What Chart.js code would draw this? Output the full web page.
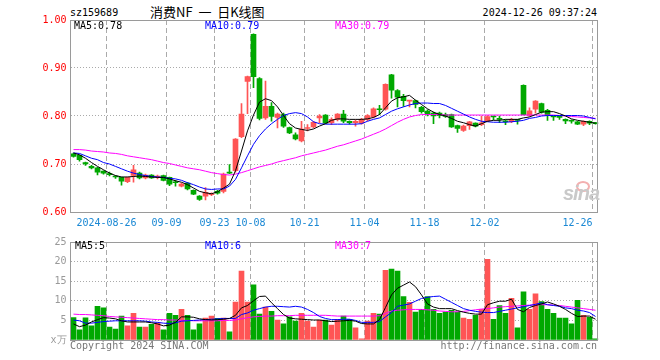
<!DOCTYPE html>
<html>
<head>
<meta charset="utf-8">
<script src="https://cdn.jsdelivr.net/npm/chart.js@4.4.1/dist/chart.umd.min.js"></script>
<style>
  body { margin: 0; background: #fff; }
  #wrap { position: relative; width: 660px; height: 360px; overflow: hidden; background: #fff; }
  canvas { position: absolute; left: 0; }
  .t { position: absolute; font: 10px/10px "DejaVu Sans Mono", monospace; white-space: pre; color: #000; }
  .cjk { font: 13px/13px "Noto Sans CJK SC", sans-serif; }
  .logo { position: absolute; left: 563px; top: 183px; font: italic bold 20px/20px "Liberation Sans", sans-serif; color: #c9c9c9; letter-spacing: -1px; }
  .eye { position: absolute; left: 576px; top: 181px; width: 10px; height: 7px; border-radius: 50%; border: 2px solid #f3b0b0; }
</style>
</head>
<body>
<div id="wrap">
  <div class="t" style="left:70px;top:8px">sz159689</div>
  <div class="t cjk" style="left:150px;top:5px">消费NF  一  日K线图</div>
  <div class="t" style="right:63px;top:8px">2024-12-26 09:37:24</div>
  <canvas id="price" width="660" height="232" style="top:0"></canvas>
  <canvas id="volume" width="660" height="128" style="top:232px"></canvas>
  <div class="eye"></div>
  <div class="logo">sina</div>
  <div class="t" style="left:74px;top:21px">MA5:0.78</div>
  <div class="t" style="left:205px;top:21px;color:#0000ff">MA10:0.79</div>
  <div class="t" style="left:335px;top:21px;color:#ff00ff">MA30:0.79</div>
  <div class="t" style="left:75px;top:241px">MA5:5</div>
  <div class="t" style="left:205px;top:241px;color:#0000ff">MA10:6</div>
  <div class="t" style="left:335px;top:241px;color:#ff00ff">MA30:7</div>
  <div class="t" style="left:70px;top:341px;color:#777">Copyright 2024 SINA.COM</div>
  <div class="t" style="right:63px;top:341px;color:#777">http://finance.sina.com.cn</div>
</div>
<script>
const dates = [
  '2024-08-16','2024-08-19','2024-08-20','2024-08-21','2024-08-22','2024-08-23',
  '2024-08-26','2024-08-27','2024-08-28','2024-08-29','2024-08-30',
  '2024-09-02','2024-09-03','2024-09-04','2024-09-05','2024-09-06',
  '2024-09-09','2024-09-10','2024-09-11','2024-09-12','2024-09-13',
  '2024-09-18','2024-09-19','2024-09-20',
  '2024-09-23','2024-09-24','2024-09-25','2024-09-26','2024-09-27','2024-09-30',
  '2024-10-08','2024-10-09','2024-10-10','2024-10-11',
  '2024-10-14','2024-10-15','2024-10-16','2024-10-17','2024-10-18',
  '2024-10-21','2024-10-22','2024-10-23','2024-10-24','2024-10-25',
  '2024-10-28','2024-10-29','2024-10-30','2024-10-31','2024-11-01',
  '2024-11-04','2024-11-05','2024-11-06','2024-11-07','2024-11-08',
  '2024-11-11','2024-11-12','2024-11-13','2024-11-14','2024-11-15',
  '2024-11-18','2024-11-19','2024-11-20','2024-11-21','2024-11-22',
  '2024-11-25','2024-11-26','2024-11-27','2024-11-28','2024-11-29',
  '2024-12-02','2024-12-03','2024-12-04','2024-12-05','2024-12-06',
  '2024-12-09','2024-12-10','2024-12-11','2024-12-12','2024-12-13',
  '2024-12-16','2024-12-17','2024-12-18','2024-12-19','2024-12-20',
  '2024-12-23','2024-12-24','2024-12-25','2024-12-26'
];

const tickDates = ['2024-08-26','2024-09-09','2024-09-23','2024-10-08','2024-10-21',
  '2024-11-04','2024-11-18','2024-12-02','2024-12-26'];
const tickText = ['2024-08-26','09-09','09-23','10-08','10-21','11-04','11-18','12-02','12-26'];

const open = [
  0.721,0.718,0.703,0.695,0.692,0.685,0.680,0.674,0.672,0.663,
  0.676,0.681,0.671,0.677,0.673,0.676,0.672,0.662,0.654,0.660,
  0.645,0.633,0.633,0.636,0.643,0.643,0.683,0.686,0.757,0.872,
  0.970,0.878,0.796,0.820,0.797,0.803,0.776,0.761,0.748,0.774,
  0.777,0.796,0.802,0.786,0.793,0.804,0.789,0.786,0.785,0.793,
  0.798,0.814,0.814,0.886,0.853,0.841,0.831,0.832,0.818,0.810,
  0.806,0.806,0.803,0.803,0.780,0.770,0.780,0.785,0.782,0.790,
  0.799,0.794,0.789,0.788,0.792,0.864,0.801,0.814,0.826,0.812,
  0.799,0.799,0.793,0.790,0.788,0.783,0.789,0.786
];
const close = [
  0.716,0.709,0.700,0.692,0.683,0.681,0.678,0.673,0.664,0.672,
  0.688,0.671,0.677,0.671,0.674,0.666,0.658,0.661,0.658,0.648,
  0.637,0.626,0.641,0.638,0.639,0.679,0.681,0.752,0.804,0.882,
  0.882,0.795,0.820,0.799,0.804,0.779,0.765,0.752,0.773,0.776,
  0.787,0.800,0.785,0.793,0.804,0.789,0.786,0.789,0.793,0.801,
  0.815,0.813,0.866,0.854,0.839,0.832,0.832,0.824,0.809,0.803,
  0.800,0.801,0.799,0.777,0.774,0.779,0.788,0.779,0.786,0.799,
  0.798,0.793,0.788,0.793,0.791,0.803,0.811,0.831,0.808,0.803,
  0.798,0.797,0.790,0.789,0.783,0.789,0.785,0.784
];
const high = [
  0.723,0.719,0.704,0.697,0.693,0.686,0.683,0.676,0.673,0.673,
  0.697,0.683,0.679,0.678,0.677,0.677,0.673,0.666,0.660,0.662,
  0.646,0.634,0.651,0.640,0.645,0.681,0.699,0.753,0.826,0.883,
  0.971,0.880,0.873,0.828,0.806,0.806,0.777,0.765,0.789,0.782,
  0.789,0.803,0.803,0.796,0.805,0.812,0.790,0.792,0.795,0.803,
  0.817,0.822,0.867,0.887,0.855,0.845,0.832,0.833,0.820,0.813,
  0.808,0.808,0.806,0.804,0.781,0.781,0.789,0.786,0.800,0.801,
  0.800,0.800,0.792,0.795,0.793,0.865,0.817,0.832,0.827,0.814,
  0.800,0.800,0.794,0.792,0.789,0.790,0.790,0.787
];
const low = [
  0.714,0.706,0.697,0.690,0.677,0.679,0.675,0.670,0.656,0.661,
  0.662,0.669,0.669,0.670,0.669,0.665,0.655,0.654,0.652,0.646,
  0.636,0.624,0.625,0.634,0.637,0.640,0.680,0.683,0.755,0.805,
  0.859,0.792,0.793,0.789,0.775,0.776,0.763,0.750,0.746,0.769,
  0.775,0.786,0.784,0.782,0.790,0.786,0.783,0.779,0.783,0.790,
  0.796,0.803,0.812,0.837,0.819,0.820,0.819,0.817,0.806,0.800,
  0.784,0.796,0.797,0.776,0.766,0.768,0.772,0.777,0.780,0.788,
  0.792,0.786,0.782,0.786,0.783,0.802,0.799,0.806,0.806,0.791,
  0.791,0.793,0.784,0.785,0.782,0.780,0.782,0.783
];

const ma5 = [
  0.723,0.719,0.712,0.703,0.695,0.688,0.681,0.676,0.673,0.673,
  0.674,0.675,0.674,0.673,0.672,0.672,0.669,0.665,0.662,0.657,
  0.650,0.643,0.640,0.638,0.642,0.650,0.658,0.686,0.727,0.769,
  0.802,0.829,0.836,0.832,0.819,0.801,0.784,0.775,0.772,0.770,
  0.773,0.779,0.784,0.791,0.794,0.794,0.793,0.793,0.793,0.794,
  0.797,0.803,0.817,0.831,0.838,0.840,0.843,0.833,0.824,0.815,
  0.808,0.803,0.800,0.795,0.789,0.786,0.782,0.779,0.784,0.789,
  0.791,0.791,0.793,0.793,0.793,0.796,0.798,0.803,0.808,0.809,
  0.809,0.805,0.800,0.794,0.791,0.789,0.787,0.785
];
const ma10 = [
  0.723,0.722,0.717,0.712,0.709,0.703,0.700,0.695,0.690,0.685,
  0.681,0.678,0.676,0.674,0.673,0.672,0.670,0.669,0.666,0.661,
  0.657,0.652,0.648,0.647,0.648,0.648,0.654,0.668,0.692,0.717,
  0.741,0.759,0.773,0.784,0.793,0.801,0.805,0.807,0.805,0.798,
  0.788,0.784,0.783,0.783,0.783,0.783,0.783,0.783,0.784,0.789,
  0.793,0.796,0.803,0.810,0.815,0.819,0.823,0.826,0.827,0.827,
  0.826,0.826,0.822,0.816,0.810,0.804,0.798,0.793,0.789,0.788,
  0.787,0.787,0.787,0.788,0.789,0.791,0.795,0.797,0.800,0.801,
  0.801,0.801,0.801,0.801,0.801,0.800,0.797,0.794
];
const ma30 = [
  0.730,0.730,0.729,0.727,0.726,0.725,0.723,0.722,0.720,0.717,
  0.715,0.713,0.711,0.709,0.706,0.703,0.701,0.698,0.695,0.692,
  0.690,0.688,0.685,0.682,0.680,0.678,0.677,0.679,0.682,0.686,
  0.690,0.694,0.697,0.700,0.704,0.707,0.710,0.713,0.717,0.720,
  0.723,0.726,0.729,0.733,0.737,0.740,0.744,0.748,0.752,0.757,
  0.762,0.767,0.773,0.780,0.787,0.793,0.798,0.801,0.803,0.803,
  0.803,0.803,0.802,0.802,0.802,0.802,0.802,0.802,0.802,0.802,
  0.802,0.802,0.802,0.802,0.802,0.802,0.802,0.802,0.802,0.802,
  0.802,0.801,0.800,0.799,0.798,0.797,0.796,0.795
];

const volume = [
  5.75,2.6,5.65,3.6,8.6,8.2,3.3,2.8,6.1,3.6,
  6.8,3.3,3.3,4.0,4.4,2.6,6.8,6.3,7.8,6.3,
  2.6,4.1,5.6,6.1,5.5,5.6,2.1,9.7,17.6,9.7,
  14.1,6.6,8.4,7.3,5.1,4.1,5.9,4.8,6.8,4.8,
  3.3,5.1,5.1,3.8,5.3,6.1,5.3,3.1,0.3,4.8,
  6.8,6.6,17.8,18.1,17.6,11.1,9.6,7.1,7.8,11.1,
  7.8,6.8,7.1,7.6,7.1,5.6,5.3,6.3,7.8,20.6,
  5.3,8.8,6.8,10.6,3.1,12.3,7.8,11.8,9.8,7.8,
  6.8,5.6,5.6,4.1,10.1,6.3,5.8,0.3
];
const volMa5 = [
  4.1,3.4,3.8,4.6,5.2,5.7,5.6,5.4,4.9,4.6,
  4.6,4.6,4.6,4.4,4.1,3.6,3.8,4.5,5.9,5.9,
  5.8,5.4,5.2,5.1,5.2,5.3,5.5,6.3,8.2,8.8,
  10.0,11.1,11.2,9.5,8.0,6.5,5.6,5.4,5.3,5.2,
  5.1,5.1,4.9,4.7,4.8,4.9,5.0,4.8,4.2,4.1,
  4.1,5.2,8.3,11.5,13.2,14.0,14.8,13.6,11.5,9.2,
  8.4,8.0,8.0,8.0,7.5,7.1,6.8,6.6,6.6,9.0,
  9.5,9.9,9.9,10.4,7.8,7.2,8.3,8.8,9.2,9.7,
  9.2,8.6,7.8,6.8,6.0,6.1,6.1,5.3
];
const volMa10 = [
  5.1,4.9,4.3,4.3,4.5,4.7,4.8,4.9,4.9,4.9,
  4.9,4.9,4.8,4.6,4.5,4.3,4.2,4.4,4.8,4.9,
  5.0,5.1,5.2,5.3,5.4,5.5,5.5,5.5,6.5,6.9,
  7.6,8.0,8.4,8.6,8.6,8.5,8.4,8.6,8.4,7.8,
  7.0,6.0,5.5,5.2,5.2,5.3,5.3,5.0,4.5,4.5,
  4.5,4.7,5.9,7.0,8.6,8.9,9.2,9.9,10.6,10.9,
  11.1,11.2,10.4,9.6,8.8,8.0,7.6,7.3,7.1,7.0,
  7.0,7.3,7.6,7.9,8.2,8.5,8.8,9.1,9.5,9.0,
  8.8,8.6,8.2,8.0,7.6,7.4,7.0,6.0
];
const volMa30 = [
  6.6,6.5,6.5,6.4,6.3,6.2,6.0,5.9,5.8,5.7,
  5.6,5.5,5.4,5.3,5.2,5.2,5.1,5.1,5.0,5.0,
  4.9,4.9,4.9,4.9,4.9,5.0,5.0,5.1,5.4,5.7,
  5.9,6.0,6.1,6.1,6.2,6.2,6.2,6.3,6.3,6.3,
  6.3,6.3,6.3,6.2,6.1,6.1,6.1,6.1,6.1,6.1,
  6.1,6.2,6.8,7.4,7.6,7.7,7.8,7.8,7.8,7.7,
  7.6,7.4,7.3,7.2,7.2,7.3,7.5,7.7,7.9,8.0,
  8.2,8.4,8.5,8.6,8.7,8.8,8.9,9.0,9.0,9.0,
  8.9,8.8,8.6,8.4,8.2,8.0,7.8,7.6
];

const UP = '#ff5555';
const DOWN = '#00a800';
const GRID = '#aaaaaa';
const candleColor = open.map((o, i) => close[i] >= o ? UP : DOWN);
const tickIdx = tickDates.map(d => dates.indexOf(d));
const mono = { family: '"DejaVu Sans Mono", monospace', size: 10 };

// box around each plot area
const frame = {
  id: 'frame',
  afterDraw(chart) {
    const { ctx, chartArea: a } = chart;
    const l = Math.floor(a.left) + 0.5, r = Math.floor(a.right) - 0.5;
    const t = Math.round(a.top) + 0.5, b = Math.round(a.bottom) + 0.5;
    ctx.save();
    ctx.strokeStyle = '#9a9a9a';
    ctx.lineWidth = 1;
    ctx.strokeRect(l, t, r - l, b - t);
    ctx.restore();
  }
};

function xAxis(showLabels) {
  return {
    type: 'category',
    offset: true,
    grid: {
      offset: true,
      drawTicks: false,
      color: c => tickIdx.includes(c.index) ? GRID : 'transparent'
    },
    border: { display: false, dash: [5, 3] },
    ticks: {
      display: showLabels,
      autoSkip: false,
      maxRotation: 0,
      align: 'inner',
      labelOffset: -3,
      padding: 5,
      color: '#1a88d4',
      font: mono,
      callback: (v, i) => {
        const k = tickIdx.indexOf(i);
        return k < 0 ? '' : tickText[k];
      }
    },
    afterFit: s => { s.height = showLabels ? 20 : 0; }
  };
}

function maLine(data, color) {
  return {
    type: 'line',
    data: data,
    borderColor: color,
    borderWidth: 1,
    pointRadius: 0,
    tension: 0,
    fill: false,
    order: 0
  };
}

const common = {
  responsive: false,
  animation: false,
  events: [],
  plugins: { legend: { display: false }, tooltip: { enabled: false } }
};

new Chart(document.getElementById('price'), {
  type: 'bar',
  data: {
    labels: dates,
    datasets: [
      maLine(ma5, '#000000'),
      maLine(ma10, '#0000ff'),
      maLine(ma30, '#ff00ff'),
      {
        data: open.map((o, i) => [o, close[i]]),
        backgroundColor: candleColor,
        barThickness: 5,
        minBarLength: 1,
        grouped: false,
        order: 1
      },
      {
        data: low.map((l, i) => [l, high[i]]),
        backgroundColor: candleColor,
        barThickness: 1,
        grouped: false,
        order: 2
      }
    ]
  },
  options: {
    ...common,
    layout: { padding: { left: 0.5, right: 61.5, top: 20, bottom: 0 } },
    scales: {
      x: xAxis(true),
      y: {
        min: 0.6,
        max: 1.0,
        grid: {
          drawTicks: false,
          color: c => (c.tick && c.tick.value > 0.61 && c.tick.value < 0.99) ? GRID : 'transparent'
        },
        border: { display: false, dash: [1, 2] },
        ticks: { stepSize: 0.1, padding: 4, color: '#ff0000', font: mono, callback: v => v.toFixed(2) },
        afterFit: s => { s.width = 70; }
      }
    }
  },
  plugins: [frame]
});

new Chart(document.getElementById('volume'), {
  type: 'bar',
  data: {
    labels: dates,
    datasets: [
      maLine(volMa5, '#000000'),
      maLine(volMa10, '#0000ff'),
      maLine(volMa30, '#ff00ff'),
      {
        data: volume,
        backgroundColor: candleColor,
        barThickness: 5,
        minBarLength: 1,
        grouped: false,
        order: 1
      }
    ]
  },
  options: {
    ...common,
    layout: { padding: { left: 0.5, right: 61.5, top: 9, bottom: 20 } },
    scales: {
      x: xAxis(false),
      y: {
        min: 0,
        max: 25,
        grid: {
          drawTicks: false,
          color: c => (c.tick && c.tick.value > 0 && c.tick.value < 25) ? GRID : 'transparent'
        },
        border: { display: false, dash: [1, 2] },
        ticks: { stepSize: 5, padding: 4, color: '#999999', font: mono, callback: v => v === 0 ? 'x万' : String(v) },
        afterFit: s => { s.width = 70; }
      }
    }
  },
  plugins: [frame]
});
</script>
</body>
</html>
